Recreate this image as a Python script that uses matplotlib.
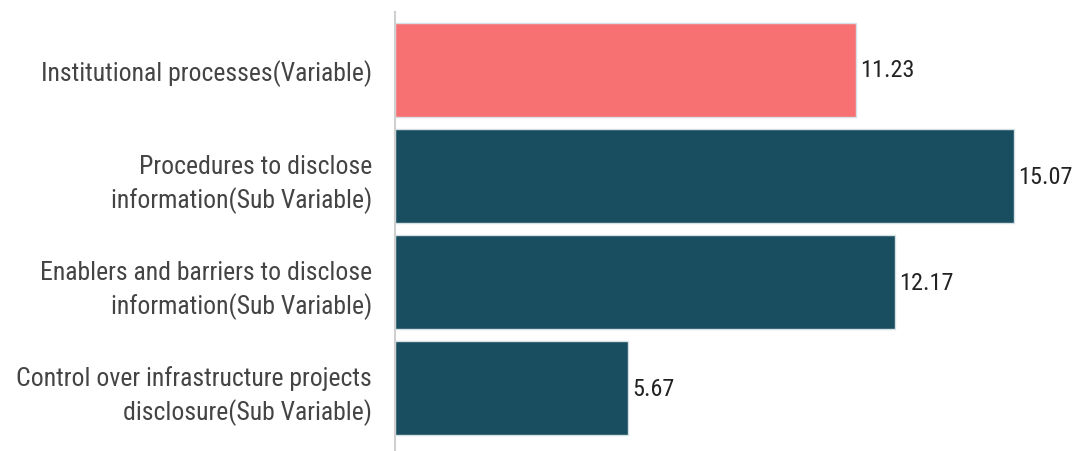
import matplotlib
matplotlib.use("Agg")
import matplotlib.pyplot as plt
from matplotlib import font_manager

categories = [
    "Institutional processes(Variable)",
    "Procedures to disclose\ninformation(Sub Variable)",
    "Enablers and barriers to disclose\ninformation(Sub Variable)",
    "Control over infrastructure projects\ndisclosure(Sub Variable)",
]
values = [11.23, 15.07, 12.17, 5.67]
colors = ["#f87172", "#194e60", "#194e60", "#194e60"]

names = {f.name for f in font_manager.fontManager.ttflist}
fam = [f for f in ["Roboto Condensed", "Liberation Sans Narrow", "Open Sans Condensed"] if f in names]
fam = fam + ["DejaVu Sans"]
plt.rcParams["font.family"] = fam

fig = plt.figure(figsize=(10.77, 4.52), dpi=100)
ax = fig.add_axes([395/1077, 0, 1 - 395/1077, 1 - 13/452])

pos = list(range(len(values)))
ax.barh(pos, values, height=0.89, color=colors, edgecolor="#d5e0e4", linewidth=1.0)
for p, v in zip(pos, values):
    ax.text(v + 0.1, p, f"{v:.2f}", va="center", ha="left", fontsize=17.5, color="#222222")

ax.set_xlim(0, 16.6)
ax.set_ylim(3.594, -0.547)
ax.set_yticks(pos)
ax.set_yticklabels(categories, fontsize=18.5, color="#444444", linespacing=1.4)
ax.tick_params(axis="y", length=0, pad=16.5)
ax.set_xticks([])
for s in ["top", "right", "bottom"]:
    ax.spines[s].set_visible(False)
ax.spines["left"].set_color("#d0d0d0")
ax.spines["left"].set_linewidth(1.5)

fig.savefig("out.png", dpi=100)
